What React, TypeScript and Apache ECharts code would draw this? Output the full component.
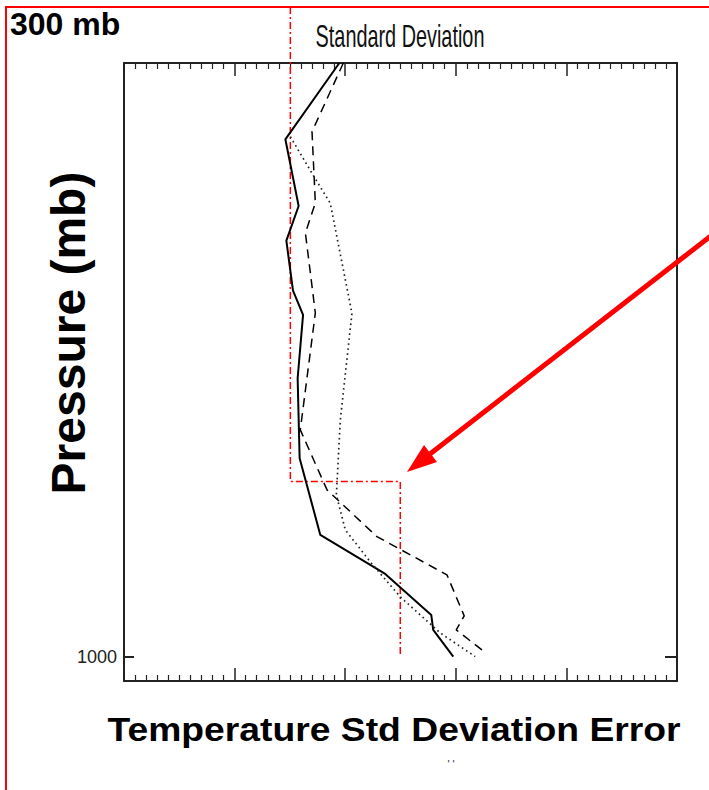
import React, { useEffect, useRef } from "react";
import * as echarts from "echarts";

// Temperature std deviation error (x) vs pressure in mb (y)
const solidX = [1.947, 1.459, 1.579, 1.468, 1.528, 1.619, 1.57, 1.588, 1.775, 2.362, 2.778, 2.796, 2.977];
const solidP = [100, 215.7, 316.8, 369.4, 445.2, 482, 578, 699.2, 815.5, 874.6, 936.8, 959.5, 1000];

const dashedX = [1.983, 1.7, 1.73, 1.64, 1.73, 1.594, 1.836, 2.287, 2.92, 3.076, 3.004, 3.275];
const dashedP = [100, 204.1, 312.2, 357.7, 479, 656.3, 747.3, 818.1, 876.1, 938.3, 959.5, 995];

const dottedX = [1.504, 1.7, 1.865, 2.061, 1.956, 1.92, 2.001, 2.227, 2.498, 2.859, 3.175];
const dottedP = [211.7, 267.2, 312.7, 479.4, 641.2, 754.9, 807.9, 856.4, 909.5, 964.1, 1000];

// red dash-dot highlight
const refX = [1.504, 1.504, 2.498, 2.498];
const refP = [15, 734.4, 734.4, 1000];

const yTickValues = [1000];
const yLabelValues = [1000];

const zip = (xs: number[], ys: number[]) => xs.map((x, i) => [x, ys[i]]);

export default function App() {
  const ref = useRef<HTMLDivElement>(null);
  useEffect(() => {
    const chart = echarts.init(ref.current!, null, { renderer: "svg" });
    const axisLine = { show: true, onZero: false, lineStyle: { color: "#222", width: 2 } };
    const xCommon = {
      type: "value" as const,
      min: 0,
      max: 5,
      interval: 1,
      axisLine,
      axisTick: { show: true, inside: true, length: 13, lineStyle: { color: "#222", width: 1.5 } },
      minorTick: { show: true, splitNumber: 10, length: 6, lineStyle: { color: "#222", width: 1.2 } },
      axisLabel: { show: false },
      splitLine: { show: false },
      minorSplitLine: { show: false },
    };
    const yCommon = {
      type: "value" as const,
      min: 100,
      max: 1037,
      inverse: true,
      axisLine,
      splitLine: { show: false },
    };
    chart.setOption({
      animation: false,
      backgroundColor: "#fff",
      grid: { left: 124, right: 32, top: 63, bottom: 109, containLabel: false },
      xAxis: [
        { ...xCommon, position: "bottom" },
        { ...xCommon, position: "top" },
      ],
      yAxis: [
        {
          ...yCommon,
          position: "left",
          axisTick: { show: true, inside: true, length: 10, customValues: yTickValues, lineStyle: { color: "#222", width: 2 } },
          axisLabel: {
            show: true,
            customValues: yLabelValues,
            formatter: (v: number) => String(v),
            margin: 7,
            fontSize: 18,
            color: "#222",
            fontFamily: "'Liberation Sans Narrow', 'Arial Narrow', sans-serif",
          },
        },
        {
          ...yCommon,
          position: "right",
          axisTick: { show: true, inside: true, length: 12, customValues: yTickValues, lineStyle: { color: "#222", width: 2 } },
          axisLabel: { show: false },
        },
      ],
      series: [
        {
          type: "line",
          data: zip(refX, refP),
          symbol: "none",
          clip: false,
          lineStyle: { color: "#ff0000", width: 1.5, type: [7, 3, 2, 3] },
          z: 1,
        },
        {
          type: "line",
          data: zip(solidX, solidP),
          symbol: "none",
          lineStyle: { color: "#000", width: 2, type: "solid" },
          z: 3,
        },
        {
          type: "line",
          data: zip(dashedX, dashedP),
          symbol: "none",
          lineStyle: { color: "#000", width: 1.5, type: [9, 6] },
          z: 3,
        },
        {
          type: "line",
          data: zip(dottedX, dottedP),
          symbol: "none",
          lineStyle: { color: "#222", width: 1.7, type: [1.6, 3.4] },
          z: 3,
        },
      ],
      graphic: [
        {
          type: "rect",
          shape: { x: 6, y: 7, width: 760, height: 860 },
          style: { fill: "none", stroke: "#ff0000", lineWidth: 2 },
          silent: true,
          z: 0,
        },
        {
          type: "text",
          x: 10,
          y: 24,
          style: {
            text: "300 mb",
            fontSize: 32,
            fontWeight: "bold",
            fontFamily: "'Liberation Sans', Arial, sans-serif",
            fill: "#000",
            textAlign: "left",
            textVerticalAlign: "middle",
          },
        },
        {
          type: "text",
          x: 400,
          y: 36,
          scaleX: 0.685,
          scaleY: 1.05,
          style: {
            text: "Standard Deviation",
            fontSize: 29,
            fontFamily: "'Liberation Sans', Arial, sans-serif",
            fill: "#111",
            textAlign: "center",
            textVerticalAlign: "middle",
          },
        },
        {
          type: "text",
          x: 68,
          y: 333,
          rotation: Math.PI / 2,
          style: {
            text: "Pressure (mb)",
            fontSize: 48,
            fontWeight: "bold",
            fontFamily: "'Liberation Sans', Arial, sans-serif",
            fill: "#000",
            textAlign: "center",
            textVerticalAlign: "middle",
          },
        },
        {
          type: "text",
          x: 394,
          y: 729,
          scaleX: 1.13,
          style: {
            text: "Temperature Std Deviation Error",
            fontSize: 33,
            fontWeight: "bold",
            fontFamily: "'Liberation Sans', Arial, sans-serif",
            fill: "#000",
            textAlign: "center",
            textVerticalAlign: "middle",
          },
        },
        {
          type: "text",
          x: 451,
          y: 764,
          style: {
            text: "' '",
            fontSize: 11,
            fontFamily: "'Liberation Sans', Arial, sans-serif",
            fill: "#333",
            textAlign: "center",
            textVerticalAlign: "middle",
          },
        },
        {
          type: "line",
          shape: { x1: 712, y1: 235, x2: 430, y2: 454 },
          style: { stroke: "#ff0000", lineWidth: 5 },
          z: 10,
        },
        {
          type: "polygon",
          shape: { points: [[407, 472], [437, 462], [424, 445]] },
          style: { fill: "#ff0000" },
          z: 10,
        },
      ],
    });
    return () => chart.dispose();
  }, []);
  return <div ref={ref} style={{ position: "fixed", left: 0, top: 0, width: 709, height: 790 }} />;
}
